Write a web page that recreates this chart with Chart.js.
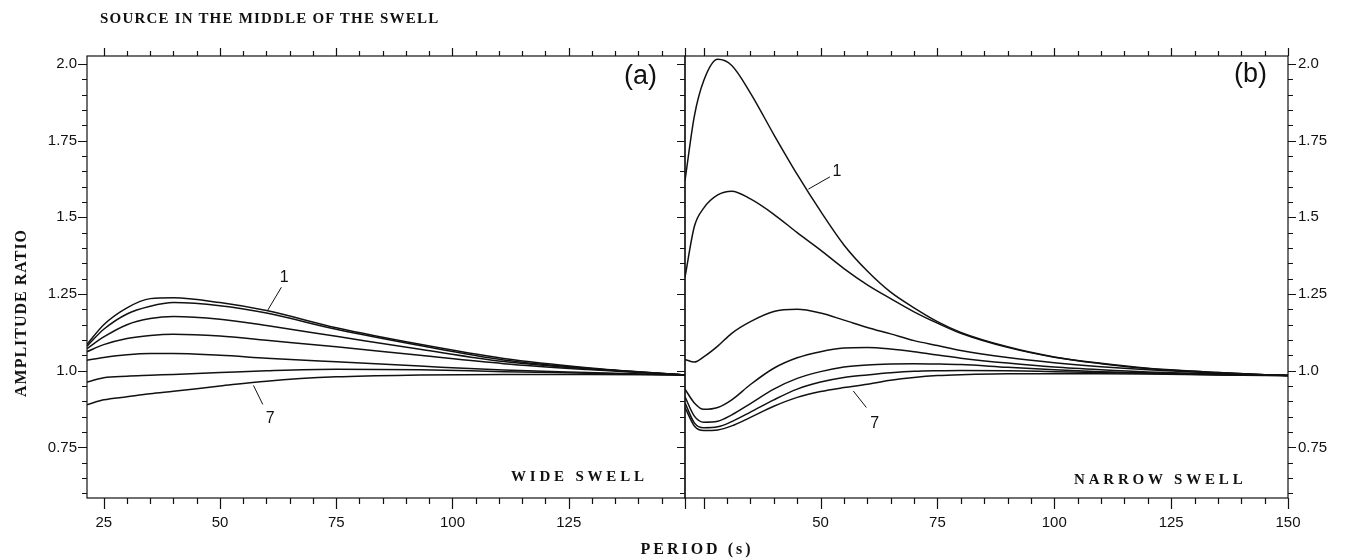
<!DOCTYPE html>
<html>
<head>
<meta charset="utf-8">
<script src="https://cdn.jsdelivr.net/npm/chart.js@4.4.1/dist/chart.umd.min.js"></script>
<style>
  body { margin: 0; background: #fff; }
  #wrap { position: relative; width: 1353px; height: 560px; overflow: hidden; }
  canvas { position: absolute; top: 0; }
  #leftChart { left: 0; }
  #rightChart { left: 670px; }
  .lbl { position: absolute; white-space: nowrap; color: #111;
         font-family: "Liberation Serif", "DejaVu Serif", serif; font-weight: bold; }
  .panel { position: absolute; white-space: nowrap; color: #111;
           font-family: "Liberation Sans", Arial, sans-serif; font-size: 27px; }
</style>
</head>
<body>
<div id="wrap">
  <canvas id="leftChart" width="700" height="560"></canvas>
  <canvas id="rightChart" width="683" height="560"></canvas>

  <div class="lbl" style="left:100px; top:10px; font-size:15px; letter-spacing:1.2px;">SOURCE IN THE MIDDLE OF THE SWELL</div>
  <div class="lbl" style="left:21px; top:313px; font-size:16px; letter-spacing:1px; transform:translate(-50%,-50%) rotate(-90deg);">AMPLITUDE RATIO</div>
  <div class="lbl" style="left:697px; top:549px; font-size:16px; letter-spacing:3px; transform:translate(-50%,-50%);">PERIOD (s)</div>
  <div class="lbl" style="left:511px; top:476px; font-size:15px; letter-spacing:3.8px; transform:translateY(-50%);">WIDE SWELL</div>
  <div class="lbl" style="left:1074px; top:479px; font-size:15px; letter-spacing:3.8px; transform:translateY(-50%);">NARROW SWELL</div>
  <div class="panel" style="left:624px; top:60px;">(a)</div>
  <div class="panel" style="left:1234px; top:58px;">(b)</div>
</div>

<script>
// axis values
const yTickValues = [0.75, 1.0, 1.25, 1.5, 1.75, 2.0];
const yTickLabels = ['0.75', '1.0', '1.25', '1.5', '1.75', '2.0'];
const xTicksWide = [25, 50, 75, 100, 125];
const xTicksNarrow = [50, 75, 100, 125, 150];

// (a) wide swell, curves 1..7
const widePeriods = [21.4, 25, 30, 35, 40, 50, 60, 75, 93, 111, 129, 150];
const wide1 = [1.086, 1.150, 1.205, 1.235, 1.238, 1.222, 1.196, 1.140, 1.086, 1.040, 1.010, 0.986];
const wide2 = [1.080, 1.135, 1.185, 1.210, 1.222, 1.212, 1.188, 1.135, 1.082, 1.035, 1.008, 0.986];
const wide3 = [1.072, 1.110, 1.150, 1.170, 1.177, 1.168, 1.147, 1.112, 1.070, 1.030, 1.006, 0.986];
const wide4 = [1.062, 1.085, 1.105, 1.115, 1.119, 1.113, 1.099, 1.078, 1.050, 1.023, 1.004, 0.986];
const wide5 = [1.034, 1.043, 1.052, 1.056, 1.056, 1.050, 1.041, 1.029, 1.015, 1.002, 0.994, 0.986];
const wide6 = [0.963, 0.977, 0.982, 0.985, 0.988, 0.994, 1.000, 1.005, 1.003, 0.997, 0.992, 0.986];
const wide7 = [0.889, 0.905, 0.915, 0.925, 0.933, 0.950, 0.966, 0.980, 0.986, 0.988, 0.988, 0.986];

// (b) narrow swell, curves 1..7
const narrowPeriods = [21, 23, 25, 28, 31, 35, 40, 45, 50, 55, 60, 65, 70, 75, 80, 90, 100, 110, 120, 135, 150];
const narrow1 = [1.620, 1.830, 1.945, 2.015, 1.995, 1.905, 1.770, 1.640, 1.520, 1.410, 1.325, 1.256, 1.205, 1.160, 1.125, 1.078, 1.045, 1.024, 1.008, 0.994, 0.984];
const narrow2 = [1.305, 1.470, 1.530, 1.573, 1.585, 1.560, 1.510, 1.450, 1.393, 1.333, 1.280, 1.235, 1.192, 1.155, 1.122, 1.076, 1.044, 1.023, 1.007, 0.994, 0.984];
const narrow3 = [1.037, 1.028, 1.045, 1.080, 1.122, 1.160, 1.193, 1.200, 1.188, 1.165, 1.141, 1.120, 1.098, 1.082, 1.066, 1.043, 1.026, 1.013, 1.003, 0.992, 0.984];
const narrow4 = [0.940, 0.895, 0.874, 0.880, 0.905, 0.955, 1.008, 1.042, 1.062, 1.074, 1.076, 1.071, 1.062, 1.051, 1.041, 1.025, 1.012, 1.003, 0.996, 0.990, 0.984];
const narrow5 = [0.915, 0.852, 0.832, 0.835, 0.856, 0.893, 0.940, 0.975, 0.997, 1.012, 1.019, 1.022, 1.023, 1.022, 1.020, 1.011, 1.003, 0.997, 0.993, 0.988, 0.984];
const narrow6 = [0.895, 0.830, 0.814, 0.817, 0.834, 0.865, 0.905, 0.940, 0.963, 0.978, 0.986, 0.993, 0.998, 1.000, 1.001, 1.000, 0.997, 0.994, 0.991, 0.987, 0.984];
const narrow7 = [0.880, 0.820, 0.805, 0.807, 0.820, 0.848, 0.884, 0.913, 0.932, 0.945, 0.956, 0.969, 0.978, 0.984, 0.987, 0.990, 0.990, 0.990, 0.989, 0.986, 0.984];

// curve number labels with their leader lines, in data units
const wideNotes = [
  { text: '1', at: [63.8, 1.305], from: [63.2, 1.272], to: [60.3, 1.198] },
  { text: '7', at: [60.8, 0.843], from: [59.2, 0.890], to: [57.2, 0.952] }
];
const narrowNotes = [
  { text: '1', at: [53.5, 1.650], from: [52.0, 1.632], to: [47.4, 1.592] },
  { text: '7', at: [61.6, 0.828], from: [59.8, 0.880], to: [57.0, 0.934] }
];

function series(periods, values) {
  return periods.map((p, i) => ({ x: p, y: values[i] }));
}

function curve(periods, values) {
  return {
    data: series(periods, values),
    borderColor: '#111',
    borderWidth: 1.5,
    pointRadius: 0,
    fill: false,
    tension: 0.4,
    cubicInterpolationMode: 'monotone'
  };
}

// frame with inward / outward tick marks (every 5 s and every 0.05)
const frameTicks = {
  id: 'frameTicks',
  afterDatasetsDraw(chart, args, opts) {
    const { ctx, chartArea: a, scales: { x, y } } = chart;
    ctx.save();
    ctx.strokeStyle = '#111';
    ctx.lineWidth = 1.2;
    ctx.strokeRect(a.left, a.top, a.right - a.left, a.bottom - a.top);
    ctx.beginPath();
    for (let i = Math.ceil(x.min / 5); i * 5 <= x.max + 1e-6; i++) {
      const px = Math.round(x.getPixelForValue(i * 5)) + 0.5;
      const major = i % 5 === 0;
      ctx.moveTo(px, a.bottom);
      ctx.lineTo(px, a.bottom + (major ? 11 : 6));
      ctx.moveTo(px, a.top);
      ctx.lineTo(px, a.top - (major ? 8 : 5));
    }
    for (let i = Math.ceil(y.min / 0.05); i * 0.05 <= y.max + 1e-6; i++) {
      const py = Math.round(y.getPixelForValue(i * 0.05)) + 0.5;
      const major = i % 5 === 0;
      if (opts.left) {
        ctx.moveTo(a.left, py);
        ctx.lineTo(a.left - (major ? 9 : 5), py);
      }
      if (opts.right) {
        ctx.moveTo(a.right, py);
        ctx.lineTo(a.right + opts.right * (major ? 8 : 5), py);
      }
    }
    ctx.stroke();

    // curve numbers
    ctx.font = '16px "Liberation Sans", Arial, sans-serif';
    ctx.fillStyle = '#111';
    ctx.textAlign = 'center';
    ctx.textBaseline = 'middle';
    ctx.lineWidth = 1;
    (opts.notes || []).forEach(n => {
      ctx.beginPath();
      ctx.moveTo(x.getPixelForValue(n.from[0]), y.getPixelForValue(n.from[1]));
      ctx.lineTo(x.getPixelForValue(n.to[0]), y.getPixelForValue(n.to[1]));
      ctx.stroke();
      ctx.fillText(n.text, x.getPixelForValue(n.at[0]), y.getPixelForValue(n.at[1]));
    });
    ctx.restore();
  }
};

function makePanel(canvasId, periods, curves, xTicks, xMin, yPos, padding, yWidth, plotOpts) {
  return new Chart(document.getElementById(canvasId), {
    type: 'line',
    data: { datasets: curves.map(c => curve(periods, c)) },
    options: {
      responsive: false,
      animation: false,
      layout: { padding: padding },
      plugins: { legend: { display: false }, tooltip: { enabled: false }, frameTicks: plotOpts },
      scales: {
        x: {
          type: 'linear',
          min: xMin,
          max: 150,
          border: { display: false },
          grid: { display: false, drawTicks: false },
          afterBuildTicks: s => { s.ticks = xTicks.map(v => ({ value: v })); },
          afterFit: s => { s.height = 62; },
          ticks: {
            autoSkip: false,
            maxRotation: 0,
            padding: 16,
            color: '#111',
            font: { family: '"Liberation Sans", Arial, sans-serif', size: 15 },
            callback: v => String(v)
          }
        },
        y: {
          type: 'linear',
          position: yPos,
          min: 0.585,
          max: 2.026,
          border: { display: false },
          grid: { display: false, drawTicks: false },
          afterBuildTicks: s => { s.ticks = yTickValues.map(v => ({ value: v })); },
          afterFit: s => { s.width = yWidth; },
          ticks: {
            autoSkip: false,
            padding: 10,
            color: '#111',
            font: { family: '"Liberation Sans", Arial, sans-serif', size: 15 },
            callback: (v, i) => yTickLabels[i]
          }
        }
      }
    },
    plugins: [frameTicks]
  });
}

makePanel('leftChart', widePeriods,
  [wide1, wide2, wide3, wide4, wide5, wide6, wide7],
  xTicksWide, 21.4, 'left',
  { left: 0, right: 15, top: 56, bottom: 0 }, 87,
  { left: true, right: -1, notes: wideNotes });

makePanel('rightChart', narrowPeriods,
  [narrow1, narrow2, narrow3, narrow4, narrow5, narrow6, narrow7],
  xTicksNarrow, 21.0, 'right',
  { left: 15, right: 0, top: 56, bottom: 0 }, 65,
  { left: false, right: 1, notes: narrowNotes });
</script>
</body>
</html>
